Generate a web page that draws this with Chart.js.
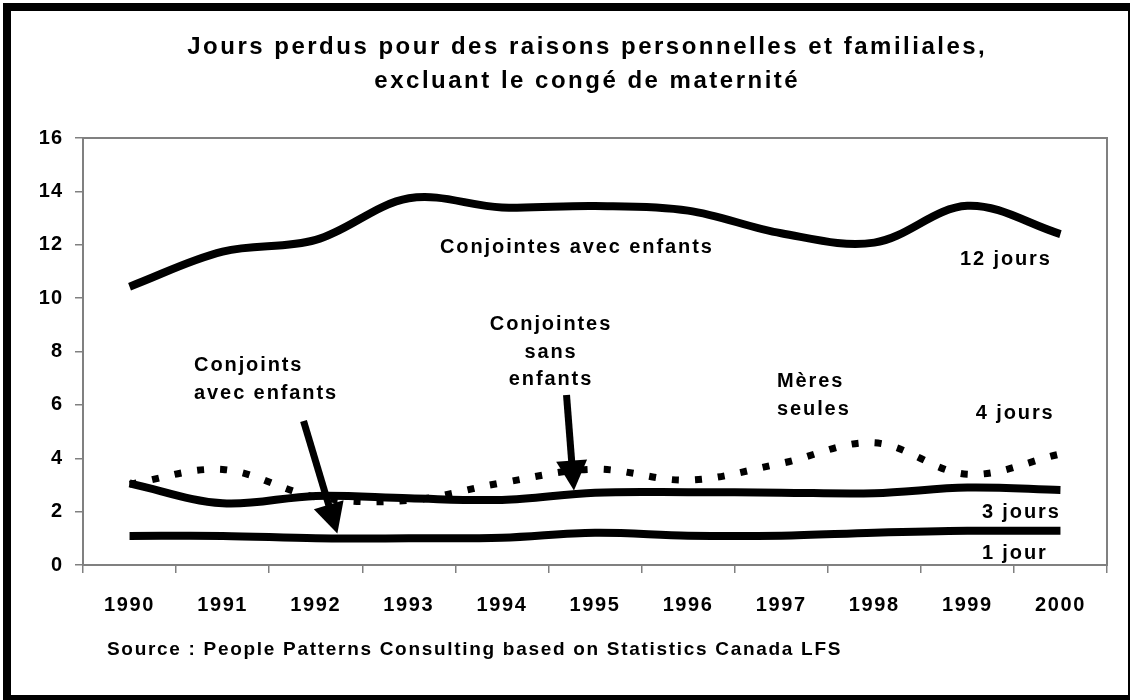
<!DOCTYPE html>
<html><head><meta charset="utf-8">
<script src="https://cdn.jsdelivr.net/npm/chart.js@4.4.1/dist/chart.umd.min.js"></script>
<style>
html,body{margin:0;padding:0;background:#fff;overflow:hidden;}
#wrap{position:relative;width:1130px;height:700px;overflow:hidden;}
#frame{position:absolute;left:3px;top:3px;width:1133px;height:700px;border:8px solid #000;box-sizing:border-box;pointer-events:none;}
canvas{position:absolute;left:0;top:0;}
</style></head><body>
<div id="wrap"><canvas id="c" width="1130" height="700"></canvas><div id="frame"></div></div>
<script>
// ---- data ----
const years = ['1990','1991','1992','1993','1994','1995','1996','1997','1998','1999','2000'];
const conjointesAvecEnfants = [10.43, 11.74, 12.18, 13.74, 13.40, 13.45, 13.28, 12.43, 12.08, 13.46, 12.40];
const conjointesSansEnfants = [3.06, 2.31, 2.59, 2.50, 2.44, 2.71, 2.73, 2.71, 2.69, 2.90, 2.81];
const conjointsAvecEnfants  = [1.09, 1.09, 1.00, 1.00, 1.02, 1.21, 1.10, 1.10, 1.21, 1.28, 1.28];
const meresSeules           = [3.03, 3.58, 2.55, 2.42, 3.08, 3.59, 3.18, 3.81, 4.58, 3.40, 4.16];
const yTicks = [0, 2, 4, 6, 8, 10, 12, 14, 16];

const titleLines = ['Jours perdus pour des raisons personnelles et familiales,', 'excluant le congé de maternité'];
const sourceText = 'Source : People Patterns Consulting based on Statistics Canada LFS';
// annotation labels placed in data units (x = category index, y = value)
const labels = [
  {t:'Conjointes avec enfants', x:3.335, y:11.91, a:'left'},
  {t:'12 jours', x:8.92, y:11.46, a:'left'},
  {t:'Conjointes', x:4.517, y:9.03, a:'center'},
  {t:'sans', x:4.517, y:7.95, a:'center'},
  {t:'enfants', x:4.517, y:6.97, a:'center'},
  {t:'Conjoints', x:0.693, y:7.49, a:'left'},
  {t:'avec enfants', x:0.693, y:6.44, a:'left'},
  {t:'Mères', x:6.955, y:6.89, a:'left'},
  {t:'seules', x:6.955, y:5.84, a:'left'},
  {t:'4 jours', x:9.09, y:5.69, a:'left'},
  {t:'3 jours', x:9.156, y:1.96, a:'left'},
  {t:'1 jour', x:9.156, y:0.45, a:'left'}
];
const arrows = [
  {from:{x:1.869, y:5.40}, to:{x:2.232, y:1.18}},
  {from:{x:4.694, y:6.37}, to:{x:4.774, y:2.79}}
];

const FONT = '"Liberation Sans", Arial, sans-serif';
const GRAY = '#808080';

function withSpacing(scale, ls) {
  if (scale._lsWrapped) return;
  const orig = scale.draw;
  scale.draw = function(ca) {
    const ctx = this.ctx;
    ctx.save();
    ctx.letterSpacing = ls;
    orig.call(this, ca);
    ctx.restore();
  };
  scale._lsWrapped = true;
}

const decor = {
  id: 'decor',
  beforeDatasetsDraw(chart) {
    const {ctx, chartArea: a} = chart;
    ctx.save();
    ctx.strokeStyle = GRAY;
    ctx.lineWidth = 2;
    ctx.strokeRect(a.left, a.top, a.right - a.left, a.bottom - a.top);
    ctx.restore();
  },
  afterDatasetsDraw(chart) {
    const {ctx, scales: {x, y}} = chart;
    ctx.save();
    ctx.fillStyle = '#000';
    ctx.strokeStyle = '#000';
    arrows.forEach(ar => {
      const x0 = x.getPixelForValue(ar.from.x), y0 = y.getPixelForValue(ar.from.y);
      const x1 = x.getPixelForValue(ar.to.x), y1 = y.getPixelForValue(ar.to.y);
      const dx = x1 - x0, dy = y1 - y0, len = Math.hypot(dx, dy);
      const ux = dx / len, uy = dy / len, px = -uy, py = ux;
      const hl = 30, hw = 15.5;
      const bx = x1 - ux * hl, by = y1 - uy * hl;
      ctx.lineWidth = 7;
      ctx.lineCap = 'butt';
      ctx.beginPath();
      ctx.moveTo(x0, y0);
      ctx.lineTo(bx + ux * 2, by + uy * 2);
      ctx.stroke();
      ctx.beginPath();
      ctx.moveTo(x1, y1);
      ctx.lineTo(bx + px * hw, by + py * hw);
      ctx.lineTo(bx - px * hw, by - py * hw);
      ctx.closePath();
      ctx.fill();
    });
    ctx.restore();
  },
  afterDraw(chart) {
    const {ctx, scales: {x, y}} = chart;
    ctx.save();
    ctx.fillStyle = '#000';
    ctx.textBaseline = 'middle';
    // title
    ctx.font = 'bold 24px ' + FONT;
    ctx.letterSpacing = '2.5px';
    ctx.textAlign = 'center';
    ctx.fillText(titleLines[0], 586 + 1.25, 47);
    ctx.fillText(titleLines[1], 586 + 1.25, 81);
    // annotations
    ctx.font = 'bold 20px ' + FONT;
    ctx.letterSpacing = '1.9px';
    labels.forEach(l => {
      ctx.textAlign = l.a;
      const px = x.getPixelForValue(l.x) + (l.a === 'center' ? 0.95 : 0);
      ctx.fillText(l.t, px, y.getPixelForValue(l.y));
    });
    // source
    ctx.font = 'bold 19px ' + FONT;
    ctx.letterSpacing = '1.7px';
    ctx.textAlign = 'left';
    ctx.fillText(sourceText, 107, 650);
    ctx.restore();
  }
};

const solid = (label, data) => ({
  label, data, borderColor: '#000', backgroundColor: '#000', borderWidth: 8,
  pointRadius: 0, tension: 0.35, fill: false, borderCapStyle: 'butt', borderJoinStyle: 'round'
});

new Chart(document.getElementById('c'), {
  type: 'line',
  data: {
    labels: years,
    datasets: [
      solid('Conjointes avec enfants', conjointesAvecEnfants),
      solid('Conjointes sans enfants', conjointesSansEnfants),
      solid('Conjoints avec enfants', conjointsAvecEnfants),
      {label: 'Mères seules', data: meresSeules, borderColor: '#000', borderWidth: 7,
       borderDash: [7, 16], borderCapStyle: 'butt', pointRadius: 0, tension: 0.35, fill: false}
    ]
  },
  options: {
    responsive: false,
    animation: false,
    devicePixelRatio: 1,
    layout: {padding: {left: 20, right: 23, top: 138, bottom: 75}},
    plugins: {legend: {display: false}, tooltip: {enabled: false}, title: {display: false}},
    scales: {
      x: {
        type: 'category',
        offset: true,
        grid: {display: true, offset: true, drawOnChartArea: false, drawTicks: true, tickLength: 8, color: GRAY, lineWidth: 1.5},
        border: {display: true, color: GRAY, width: 2},
        ticks: {color: '#000', font: {family: FONT, size: 20, weight: 'bold'}, padding: 20, maxRotation: 0, autoSkip: false},
        afterFit(s) { s.height = 60; },
        afterUpdate(s) { withSpacing(s, '1.6px'); }
      },
      y: {
        min: 0, max: 16,
        afterBuildTicks(s) { s.ticks = yTicks.map(v => ({value: v})); },
        grid: {display: true, drawOnChartArea: false, drawTicks: true, tickLength: 8, color: GRAY, lineWidth: 1.5},
        border: {display: true, color: GRAY, width: 2},
        ticks: {color: '#000', font: {family: FONT, size: 20, weight: 'bold'}, padding: 12, callback: v => String(v)},
        afterFit(s) { s.width = 63; },
        afterUpdate(s) { withSpacing(s, '1px'); }
      }
    }
  },
  plugins: [decor]
});
</script>
</body></html>
